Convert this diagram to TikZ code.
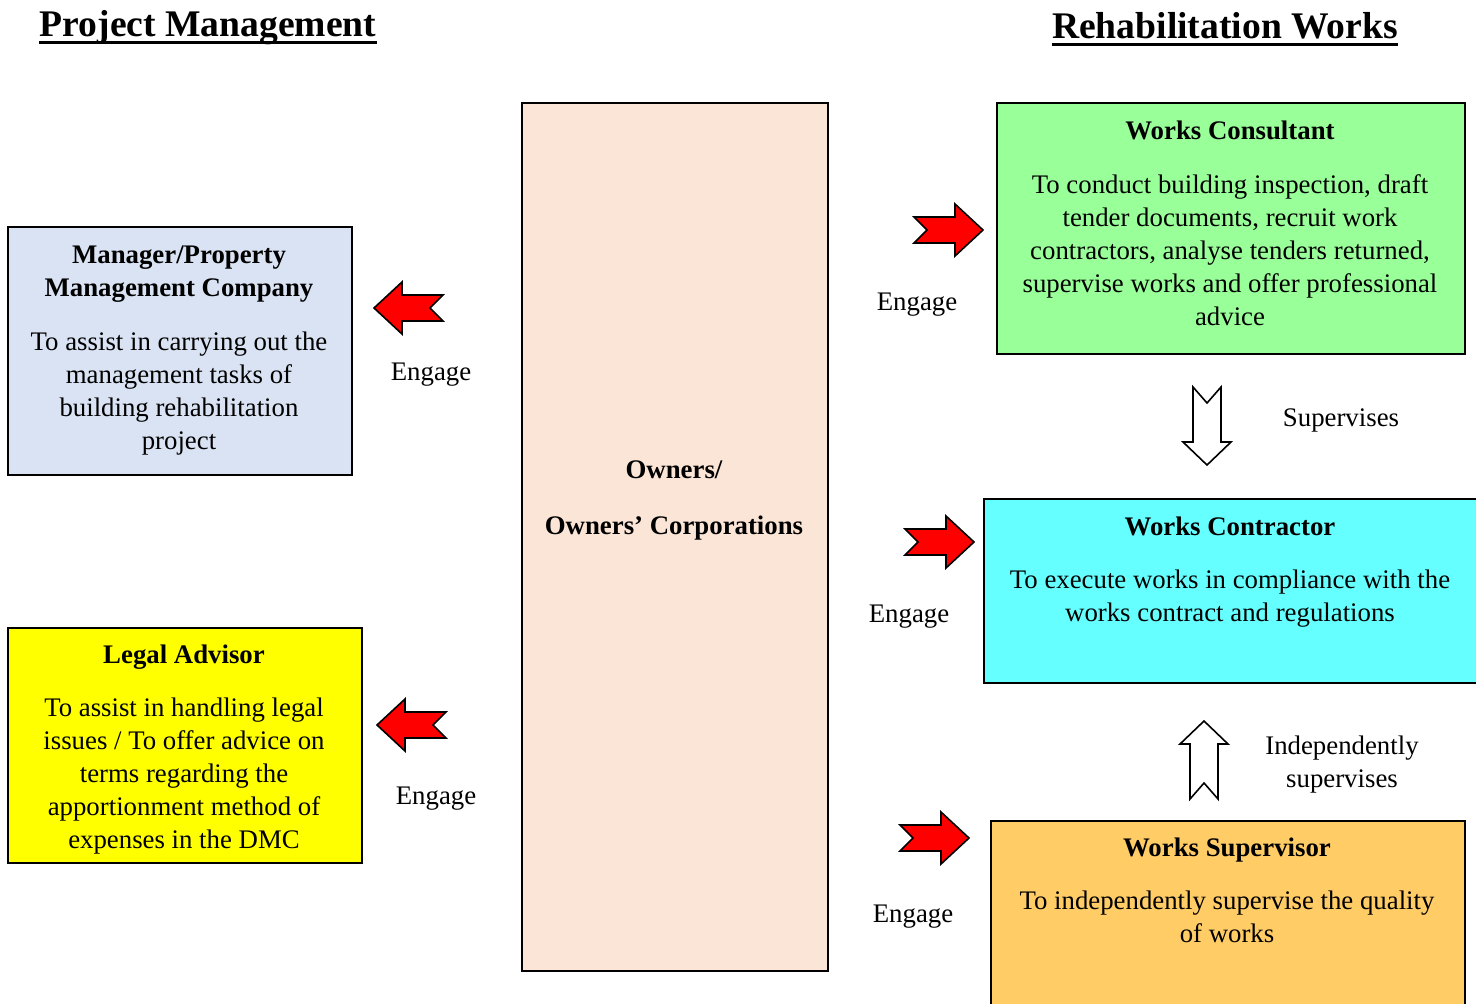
\documentclass[tikz,border=0pt]{standalone}
\usepackage{fontspec}
\setmainfont{Liberation Serif}
\usetikzlibrary{positioning}
\definecolor{cpeach}{HTML}{FBE5D6}
\definecolor{cblue}{HTML}{DAE3F3}
\definecolor{cyellow}{HTML}{FFFF00}
\definecolor{cgreen}{HTML}{99FF99}
\definecolor{ccyan}{HTML}{66FFFF}
\definecolor{corange}{HTML}{FFCC66}
\definecolor{cred}{HTML}{FF0000}
\tikzset{
  every picture/.style={font=\fontsize{13.4}{16.5}\selectfont, x=0.5pt, y=-0.5pt},
  box/.style={draw=black, fill=#1, line width=1pt, anchor=north west, inner sep=0pt},
  title/.style={font=\fontsize{13.4}{16.5}\selectfont\bfseries, align=center, inner sep=0pt},
  body/.style={align=center, inner sep=0pt},
  tag/.style={align=center, inner sep=0pt},
  heading/.style={font=\fontsize{18.8}{22}\selectfont\bfseries, inner sep=0pt},
  engage/.pic={\draw[fill=cred, line width=0.8pt, line join=miter]
    (0,0) -- (28,-26) -- (28,-13) -- (69,-13) -- (56,0) -- (69,13) -- (28,13) -- (28,26) -- cycle;},
  oversee/.pic={\draw[fill=white, line width=0.8pt, line join=miter]
    (0,0) -- (23,-24) -- (23,-14) -- (78,-14) -- (62,0) -- (78,14) -- (23,14) -- (23,24) -- cycle;},
}
\begin{document}
\begin{tikzpicture}
  \useasboundingbox (0,0) rectangle (1476,1003);
  \clip (0,0) rectangle (1476,1003);
  % headings
  \node[heading] (h1) at (208,28) {Project Management};
  \draw[line width=1.5pt] ([yshift=-3pt]h1.base west) -- ([yshift=-3pt]h1.base east);
  \node[heading] (h2) at (1225,26) {Rehabilitation Works};
  \draw[line width=1.5pt] ([yshift=-3pt]h2.base west) -- ([yshift=-3pt]h2.base east);
  % owners in the middle
  \node[box=cpeach, minimum width=153pt, minimum height=434pt] (own) at (521,102) {};
  \node[title] (ownT) at (674,500) {Owners/\\[11.5pt]Owners’ Corporations};
  % left: project management
  \node[box=cblue, minimum width=172pt, minimum height=124pt] (mgr) at (7,226) {};
  \node[title] (mgrT) at (179,274) {Manager/Property\\Management Company};
  \node[body, below=14.5pt of mgrT] (mgrB) {To assist in carrying out the\\management tasks of\\building rehabilitation\\project};
  \node[box=cyellow, minimum width=177pt, minimum height=117.5pt] (law) at (7,627) {};
  \node[title] (lawT) at (184,657) {Legal Advisor};
  \node[body, below=14pt of lawT] (lawB) {To assist in handling legal\\issues / To offer advice on\\terms regarding the\\apportionment method of\\expenses in the DMC};
  % right: rehabilitation works
  \node[box=cgreen, minimum width=234pt, minimum height=125.5pt] (cons) at (996,102) {};
  \node[title] (consT) at (1230,130) {Works Consultant};
  \node[body, below=17pt of consT] (consB) {To conduct building inspection, draft\\tender documents, recruit work\\contractors, analyse tenders returned,\\supervise works and offer professional\\advice};
  \node[box=ccyan, minimum width=260pt, minimum height=92pt] (ctr) at (983,498) {};
  \node[title] (ctrT) at (1230,526) {Works Contractor};
  \node[body, below=17pt of ctrT] (ctrB) {To execute works in compliance with the\\works contract and regulations};
  \node[box=corange, minimum width=237pt, minimum height=110pt] (sup) at (990,820) {};
  \node[title] (supT) at (1227,850) {Works Supervisor};
  \node[body, below=14pt of supT] (supB) {To independently supervise the quality\\of works};
  % engage arrows
  \pic at (374,308) {engage};
  \node[tag] (e1) at (431,375) {Engage};
  \pic at (377,725) {engage};
  \node[tag] (e2) at (436,799) {Engage};
  \pic[rotate=180] at (983,230) {engage};
  \node[tag] (e3) at (917,305) {Engage};
  \pic[rotate=180] at (974,542) {engage};
  \node[tag] (e4) at (909,617) {Engage};
  \pic[rotate=180] at (969,838) {engage};
  \node[tag] (e5) at (913,917) {Engage};
  % supervision arrows
  \pic[rotate=90] at (1207,465) {oversee};
  \node[tag] (s1) at (1341,420) {Supervises};
  \pic[rotate=-90] at (1204,721) {oversee};
  \node[tag] (s2) at (1342,765) {Independently\\supervises};
\end{tikzpicture}
\end{document}
